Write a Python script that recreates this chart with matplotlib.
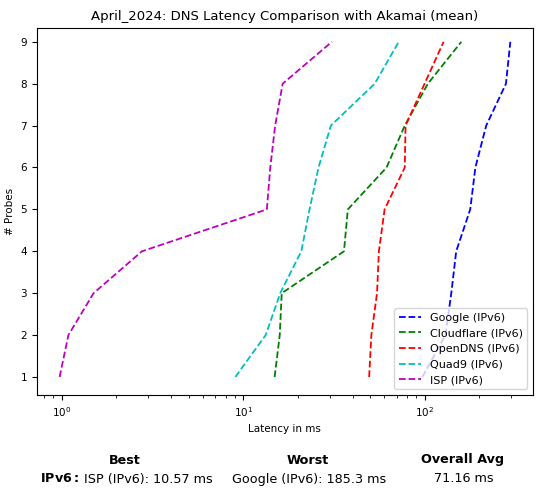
import numpy as np
import matplotlib
matplotlib.use("Agg")
import matplotlib.pyplot as plt

# mean latency per probe (ms)
probes = [1, 2, 3, 4, 5, 6, 7, 8, 9]
google = [97, 130, 140, 149, 178, 190, 218, 280, 296]
cloudflare = [14.9, 15.9, 16.3, 35.9, 37.7, 61.6, 77.6, 104, 159]
opendns = [49.4, 50.8, 54.6, 55.9, 60.1, 77.6, 78.4, 99.8, 127]
quad9 = [9.05, 13.3, 16.0, 20.9, 23.2, 26.0, 30.4, 53.0, 71.9]
isp = [0.975, 1.09, 1.50, 2.77, 13.5, 14.1, 15.0, 16.5, 30.8]

series = ["Google (IPv6)", "Cloudflare (IPv6)", "OpenDNS (IPv6)", "Quad9 (IPv6)", "ISP (IPv6)"]
values = [google, cloudflare, opendns, quad9, isp]
colors = ["b", "g", "r", "c", "m"]

best_txt = "ISP (IPv6): 10.57 ms"
worst_txt = "Google (IPv6): 185.3 ms"
avg_txt = "71.16 ms"

fig = plt.figure(figsize=(5.41, 4.96), dpi=100)
ax = fig.add_axes([0.068, 0.2036, 0.917, 0.74])

for name, vals, col in zip(series, values, colors):
    ax.plot(vals, probes, linestyle="--", color=col, label=name, linewidth=1.3)

ax.set_xscale("log")
ax.set_xlim(0.73, 394)
ax.set_ylim(0.57, 9.33)
ax.set_yticks(probes)
ax.tick_params(labelsize=7.5)
ax.set_xlabel("Latency in ms", fontsize=7.5)
ax.set_ylabel("# Probes", fontsize=7.5)
ax.set_title("April_2024: DNS Latency Comparison with Akamai (mean)", fontsize=9.5)
ax.legend(loc="lower right", fontsize=8)

# summary below the plot
fs = 9.2
fig.text(125 / 541, 1 - 460 / 496, "Best", ha="center", va="center", fontsize=fs, fontweight="bold")
fig.text(308 / 541, 1 - 460 / 496, "Worst", ha="center", va="center", fontsize=fs, fontweight="bold")
fig.text(463 / 541, 1 - 460 / 496, "Overall Avg", ha="center", va="center", fontsize=fs, fontweight="bold")
fig.text(40 / 541, 1 - 479 / 496, r"$\bf{IPv6:}$", ha="left", va="center", fontsize=fs)
fig.text(84 / 541, 1 - 479 / 496, best_txt, ha="left", va="center", fontsize=fs)
fig.text(309 / 541, 1 - 479 / 496, worst_txt, ha="center", va="center", fontsize=fs)
fig.text(464 / 541, 1 - 479 / 496, avg_txt, ha="center", va="center", fontsize=fs)

fig.savefig("out.png", dpi=100)
